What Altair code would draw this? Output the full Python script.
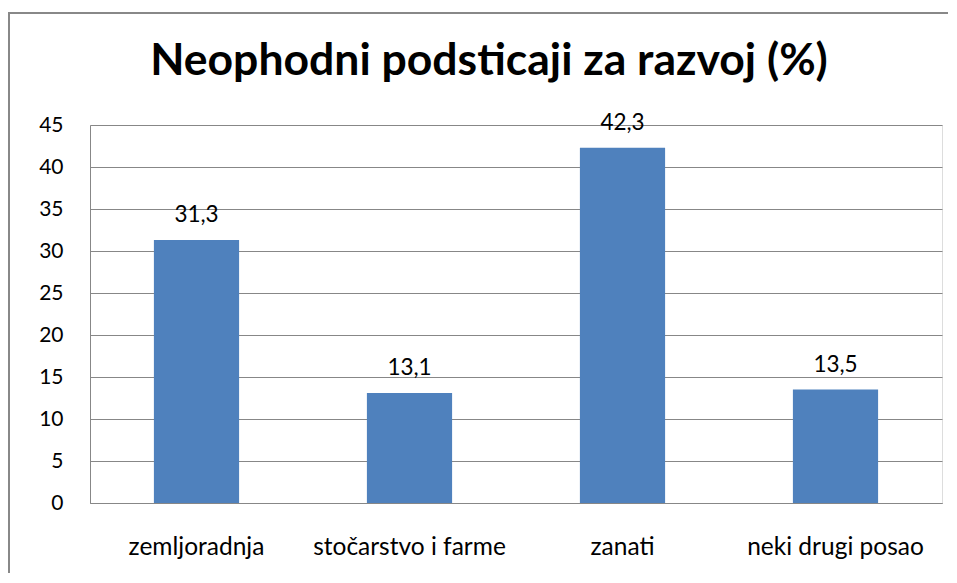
import altair as alt
import pandas as pd

categories = ["zemljoradnja", "stočarstvo i farme", "zanati", "neki drugi posao"]
values = [31.3, 13.1, 42.3, 13.5]
labels = [f"{v:.1f}".replace(".", ",") for v in values]
y_ticks = [0, 5, 10, 15, 20, 25, 30, 35, 40, 45]

df = pd.DataFrame({"kategorija": categories, "vrijednost": values, "oznaka": labels})

FONT = "Lato"
GRAY = "#878787"
W, H = 852, 378

x_enc = alt.X("kategorija:N", sort=categories,
              scale=alt.Scale(paddingInner=0.6, paddingOuter=0.3),
              axis=alt.Axis(title=None, labelAngle=0, labelFont=FONT, labelFontSize=24.5,
                            labelColor="#000000", labelPadding=32, labelBaseline="top",
                            labelLimit=400,
                            ticks=False, tickSize=0, domainColor=GRAY, domainWidth=1,
                            grid=False))
y_enc = alt.Y("vrijednost:Q", scale=alt.Scale(domain=[0, 45], nice=False),
              axis=alt.Axis(title=None, values=y_ticks, labelFont=FONT, labelFontSize=21,
                            labelColor="#000000", labelPadding=27, ticks=False, tickSize=0,
                            domainColor=GRAY, domainWidth=1, gridColor=GRAY, gridWidth=1,
                            gridOpacity=1))

bars = alt.Chart(df).mark_bar(color="#4F81BD").encode(x=x_enc, y=y_enc)
text = alt.Chart(df).mark_text(font=FONT, fontSize=22.5, color="#000000",
                               baseline="alphabetic", dy=-18).encode(
    x=alt.X("kategorija:N", sort=categories), y="vrijednost:Q", text="oznaka:N")

border_v = alt.Chart(df).mark_rule(color="#888888", strokeWidth=2).encode(
    x=alt.value(-81), y=alt.value(-112), y2=alt.value(H + 80))
border_h = alt.Chart(df).mark_rule(color="#888888", strokeWidth=2).encode(
    x=alt.value(-82), x2=alt.value(W + 20), y=alt.value(-112))

chart = alt.layer(bars, text, border_v, border_h).properties(
    width=W, height=H,
    autosize=alt.AutoSizeParams(type="none"),
    padding={"left": 82, "top": 117, "right": 6, "bottom": 70},
    title=alt.TitleParams("Neophodni podsticaji za razvoj (%)", font=FONT, fontSize=44.5,
                          fontWeight="bold", color="#000000", anchor="middle",
                          frame="group", dx=-27, offset=-107, baseline="alphabetic"),
).configure_view(stroke=None).configure(background="white")

chart.save("out.html", embed_options={"renderer": "svg", "actions": False})
